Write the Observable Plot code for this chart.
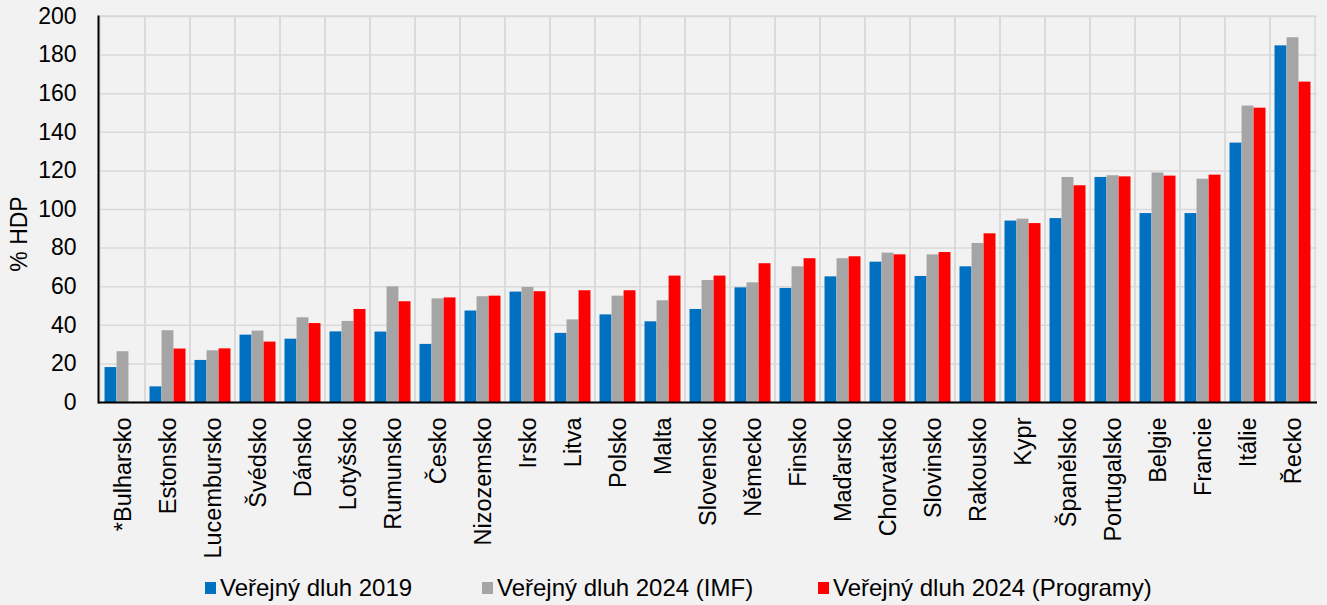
<!DOCTYPE html>
<html><head><meta charset="utf-8">
<script src="https://cdn.jsdelivr.net/npm/d3@7"></script>
<script src="https://cdn.jsdelivr.net/npm/@observablehq/plot@0.6"></script>
<style>
html,body{margin:0;padding:0;background:#f2f2f2;font-family:"Liberation Sans",Arial,sans-serif;}
#wrap{position:relative;width:1327px;height:605px;overflow:hidden;}
#ylab{position:absolute;left:19px;top:234px;transform:translate(-50%,-50%) rotate(-90deg);font-size:23px;white-space:nowrap;color:#000;}
.leg{position:absolute;top:576px;display:flex;align-items:center;font-size:24px;white-space:nowrap;height:24px;}
.sw{display:inline-block;width:11px;height:12px;margin-right:4px;}
</style></head>
<body><div id="wrap"><div id="chart"></div><div id="ylab">% HDP</div><div id="legend"></div></div>
<script>
const countries = ["*Bulharsko","Estonsko","Lucembursko","Švédsko","Dánsko","Lotyšsko","Rumunsko","Česko","Nizozemsko","Irsko","Litva","Polsko","Malta","Slovensko","Německo","Finsko","Maďarsko","Chorvatsko","Slovinsko","Rakousko","Kypr","Španělsko","Portugalsko","Belgie","Francie","Itálie","Řecko"];
const debt2019 = [18.1,8.1,21.8,34.9,32.8,36.6,36.5,30.1,47.4,57.2,35.8,45.4,41.8,48.2,59.4,59.1,65.1,72.7,65.3,70.3,94.0,95.3,116.6,97.9,97.9,134.4,184.8];
const debt2024IMF = [26.3,37.2,26.8,37.0,43.9,42.0,59.9,53.7,54.8,59.6,42.8,55.1,52.7,63.2,62.0,70.3,74.5,77.4,76.5,82.4,95.0,116.6,117.5,118.9,115.7,153.6,189.0];
const debt2024Prog = [null,27.7,27.8,31.3,40.9,48.2,52.2,54.2,55.1,57.4,57.9,57.9,65.5,65.5,71.9,74.5,75.5,76.5,77.7,87.4,92.7,112.3,116.9,117.3,117.8,152.5,166.0];
const seriesNames = ["Veřejný dluh 2019","Veřejný dluh 2024 (IMF)","Veřejný dluh 2024 (Programy)"];
const seriesColors = ["#0070c0","#a5a5a5","#ff0000"];
const yTicks = [0,20,40,60,80,100,120,140,160,180,200];

const W = 1327, H = 560, mL = 98, mR = 10, mT = 16, mB = 158;
const band = (W - mL - mR) / countries.length;
const gap = band * 0.1;
const bw = (band - 2 * gap) / 3;
const seriesValues = [debt2019, debt2024IMF, debt2024Prog];

const barMarks = seriesValues.map((vals, i) =>
  Plot.barY(countries.map((c, j) => ({c, v: vals[j]})).filter(d => d.v != null), {
    x: "c", y: "v", fill: seriesColors[i],
    insetLeft: gap + i * bw, insetRight: gap + (2 - i) * bw
  })
);

const chart = Plot.plot({
  width: W, height: H,
  marginLeft: mL, marginRight: mR, marginTop: mT, marginBottom: mB,
  style: {background: "#f2f2f2", fontFamily: "'Liberation Sans', Arial, sans-serif", color: "#000"},
  x: {type: "band", domain: countries, padding: 0},
  y: {domain: [0, 200]},
  marks: [
    Plot.cell(countries, {x: d => d, fill: "none", stroke: "#d9d9d9", strokeWidth: 1.5, inset: 0}),
    Plot.gridY(yTicks, {stroke: "#d9d9d9", strokeOpacity: 1, strokeWidth: 1.5}),
    ...barMarks,
    Plot.ruleY([0], {stroke: "#000", strokeWidth: 2}),
    Plot.frame({anchor: "left", stroke: "#000", strokeWidth: 2}),
    Plot.axisY(yTicks, {tickSize: 0, tickPadding: 22, fontSize: 23, label: null}),
    Plot.axisX({tickRotate: -90, tickSize: 0, tickPadding: 15, fontSize: 23.5, label: null})
  ]
});
document.getElementById("chart").appendChild(chart);

const legendPos = [205, 482, 818];
const leg = document.getElementById("legend");
seriesNames.forEach((n, i) => {
  const d = document.createElement("div");
  d.className = "leg";
  d.style.left = legendPos[i] + "px";
  d.innerHTML = `<span class="sw" style="background:${seriesColors[i]}"></span><span>${n}</span>`;
  leg.appendChild(d);
});
</script></body></html>
